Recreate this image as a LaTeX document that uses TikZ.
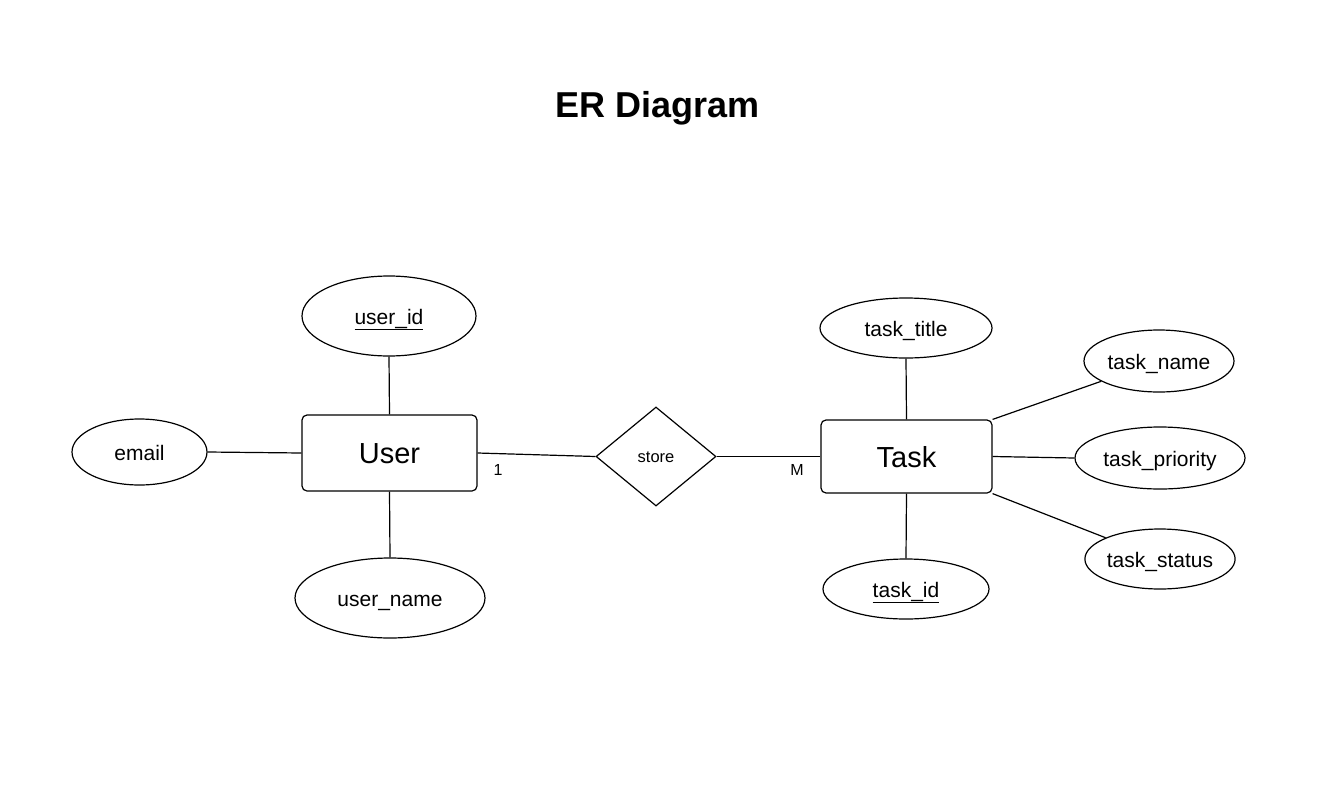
\documentclass[tikz,border=0pt]{standalone}
\usepackage{fontspec}
\setmainfont{Liberation Sans}
\usetikzlibrary{shapes.geometric}
\begin{document}
\begin{tikzpicture}[x=1pt,y=-1pt,line width=1.2pt,
  attr/.style={draw,ellipse,inner sep=0pt,text height=16pt,text depth=0pt,font=\fontsize{21}{25}\selectfont},
  entity/.style={draw,rectangle,rounded corners=5pt,inner sep=0pt,text height=21pt,text depth=0pt,font=\fontsize{29}{34}\selectfont},
  rel/.style={draw,diamond,inner sep=0pt,text height=11pt,text depth=0pt,font=\fontsize{16.5}{20}\selectfont},
  card/.style={inner sep=0pt,text height=12pt,text depth=0pt,font=\fontsize{16}{19}\selectfont},
  conn/.style={line width=1.2pt}]
\useasboundingbox[fill=white] (0,0) rectangle (1342,798);
\node[inner sep=0pt,text height=26pt,text depth=0pt,font=\fontsize{36}{42}\selectfont\bfseries] (title) at (658,104) {ER Diagram};
% User side
\node[entity,minimum width=175pt,minimum height=76pt] (user) at (389.5,453) {User};
\node[attr,minimum width=174pt,minimum height=80pt] (uid) at (389,316) {\underline{user\_id}};
\node[attr,minimum width=190pt,minimum height=80pt] (uname) at (390,598) {user\_name};
\node[attr,minimum width=135pt,minimum height=66pt] (email) at (139.5,452) {email};
% relationship
\node[rel,minimum width=120pt,minimum height=99pt] (store) at (656,456.5) {store};
% Task side
\node[entity,minimum width=171pt,minimum height=73pt] (task) at (906.5,456.5) {Task};
\node[attr,minimum width=172pt,minimum height=60pt] (ttitle) at (906,328) {task\_title};
\node[attr,minimum width=150pt,minimum height=62pt] (tname) at (1159,361) {task\_name};
\node[attr,minimum width=170pt,minimum height=62pt] (tprio) at (1160,458) {task\_priority};
\node[attr,minimum width=150pt,minimum height=60pt] (tstatus) at (1160,559) {task\_status};
\node[attr,minimum width=166pt,minimum height=60pt] (tid) at (906,589) {\underline{task\_id}};
% connectors
\draw[conn] (user.north) -- (uid.south);
\draw[conn] (user.south) -- (uname.north);
\draw[conn] (email.east) -- (user.west);
\draw[conn] (user.east) -- (store.west);
\draw[conn] (store.east) -- (task.west);
\draw[conn] (task.north) -- (ttitle.south);
\draw[conn] (task.south) -- (tid.north);
\draw[conn] (task.north east) -- (tname);
\draw[conn] (task.east) -- (tprio.west);
\draw[conn] (task.south east) -- (tstatus);
% cardinalities
\node[card] (c1) at (498,469) {1};
\node[card] (cm) at (797,469) {M};
\end{tikzpicture}
\end{document}
